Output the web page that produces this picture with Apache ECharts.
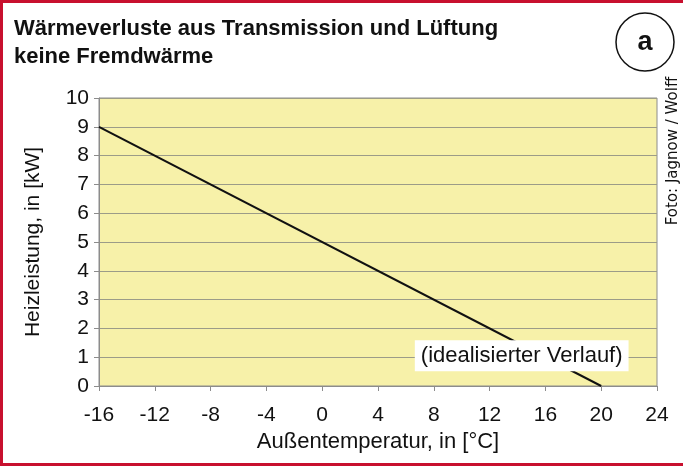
<!DOCTYPE html>
<html>
<head>
<meta charset="utf-8">
<script src="https://cdn.jsdelivr.net/npm/echarts@6/dist/echarts.min.js"></script>
<style>
  html, body { margin: 0; padding: 0; background: #fff; }
  #chart { width: 683px; height: 466px; }
</style>
</head>
<body>
<div id="chart"></div>
<script>
// Außentemperatur [°C] -> Heizleistung [kW]
let temps = [-16, 20]
let power = [9, 0]
let xTicks = [-16, -12, -8, -4, 0, 4, 8, 12, 16, 20, 24]
let noteText = '(idealisierter Verlauf)'
let notePos = [14.3, 1.05]

let chart = echarts.init(document.getElementById('chart'))
let font = 'Liberation Sans, Arial, sans-serif'

chart.setOption({
  animation: false,
  grid: {
    left: 99,
    right: 26,
    top: 98,
    bottom: 80,
    show: true,
    backgroundColor: '#f7f1a9',
    borderColor: '#8c8c8c',
    borderWidth: 1,
  },
  xAxis: {
    type: 'value',
    min: xTicks[0],
    max: xTicks[xTicks.length - 1],
    interval: 4,
    name: 'Außentemperatur, in [°C]',
    nameLocation: 'middle',
    nameGap: 45,
    nameTextStyle: { fontFamily: font, fontSize: 22, color: '#111' },
    axisLine: { show: true, onZero: false, lineStyle: { color: '#8c8c8c' } },
    axisTick: { show: true, length: 5, lineStyle: { color: '#8c8c8c' } },
    axisLabel: { fontFamily: font, fontSize: 21, color: '#111', margin: 19 },
    splitLine: { show: false },
  },
  yAxis: {
    type: 'value',
    min: 0,
    max: 10,
    interval: 1,
    name: 'Heizleistung, in [kW]',
    nameLocation: 'middle',
    nameGap: 55,
    nameTextStyle: { fontFamily: font, fontSize: 21, color: '#111' },
    axisLine: { show: true, onZero: false, lineStyle: { color: '#8c8c8c' } },
    axisTick: { show: true, length: 5, lineStyle: { color: '#8c8c8c' } },
    axisLabel: { fontFamily: font, fontSize: 21, color: '#111', margin: 10 },
    splitLine: { show: true, lineStyle: { color: '#9c9c88', width: 1 } },
  },
  series: [
    {
      type: 'line',
      symbol: 'none',
      lineStyle: { color: '#111', width: 2 },
      data: temps.map((t, i) => [t, power[i]]),
      markPoint: {
        symbol: 'rect',
        symbolSize: 1,
        itemStyle: { color: 'transparent' },
        label: {
          show: true,
          formatter: noteText,
          fontFamily: font,
          fontSize: 22,
          color: '#111',
          backgroundColor: '#fff',
          padding: [5, 6, 4, 6],
        },
        data: [{ coord: notePos }],
      },
    },
  ],
  graphic: [
    {
      type: 'rect',
      shape: { x: 1.5, y: 1.5, width: 700, height: 463 },
      style: { fill: 'none', stroke: '#c8102e', lineWidth: 3 },
      silent: true,
    },
    {
      type: 'text',
      left: 14,
      top: 15,
      style: {
        text: 'Wärmeverluste aus Transmission und Lüftung\nkeine Fremdwärme',
        fontFamily: font,
        fontWeight: 'bold',
        fontSize: 22,
        lineHeight: 28,
        fill: '#111',
      },
    },
    {
      type: 'circle',
      shape: { cx: 645, cy: 42, r: 29 },
      style: { fill: '#fff', stroke: '#111', lineWidth: 1.5 },
    },
    {
      type: 'text',
      x: 645,
      y: 43,
      style: {
        text: 'a',
        fontFamily: font,
        fontWeight: 'bold',
        fontSize: 27,
        fill: '#111',
        align: 'center',
        verticalAlign: 'middle',
      },
    },
    {
      type: 'text',
      x: 673,
      y: 151,
      rotation: Math.PI / 2,
      style: {
        text: 'Foto: Jagnow / Wolff',
        fontFamily: 'DejaVu Sans, sans-serif',
        fontSize: 15,
        fill: '#111',
        align: 'center',
        verticalAlign: 'middle',
      },
    },
  ],
})
</script>
</body>
</html>
